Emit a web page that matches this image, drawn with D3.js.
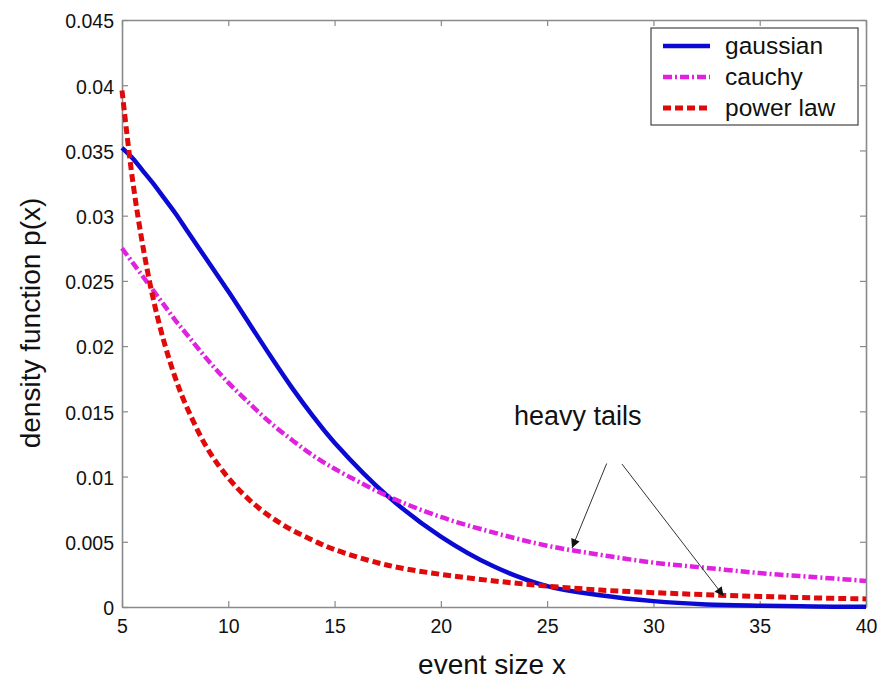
<script src="https://d3js.org/d3.v7.min.js"></script>
<html>
<head>
<style>
body { margin: 0; background: #fff; }
text { font-family: "Liberation Sans", Arial, sans-serif; fill: #111; }
</style>
</head>
<body>
<script>
var eventSize = [5, 5.5, 6, 6.5, 7, 7.5, 8, 9, 10, 11, 12, 13, 14, 15, 17.5, 20, 22.5, 25, 27.5, 30, 32.5, 35, 37.5, 40];
var gaussian = [0.0352, 0.0344, 0.0334, 0.0324, 0.0313, 0.0302, 0.0290, 0.0266, 0.0242, 0.0217, 0.0192, 0.0168, 0.0146, 0.0126, 0.0085, 0.0054, 0.0031, 0.0016, 0.0009, 0.00045, 0.0002, 0.0001, 0.00004, 0.00001];
var cauchy = [0.0275, 0.0264, 0.0253, 0.0242, 0.0231, 0.0220, 0.0210, 0.0190, 0.0172, 0.0156, 0.0141, 0.0128, 0.0116, 0.0106, 0.0085, 0.0069, 0.0057, 0.0047, 0.0040, 0.0034, 0.0030, 0.0026, 0.0023, 0.0020];
var powerLaw = [0.0396, 0.0327, 0.0275, 0.0234, 0.0202, 0.0176, 0.0155, 0.0122, 0.0099, 0.0082, 0.0069, 0.0059, 0.0051, 0.0044, 0.0032, 0.0025, 0.0020, 0.0016, 0.0013, 0.0011, 0.00094, 0.00081, 0.0007, 0.00062];

var seriesNames = ["gaussian", "cauchy", "power law"];
var xTicks = [5, 10, 15, 20, 25, 30, 35, 40];
var yTicks = [0, 0.005, 0.01, 0.015, 0.02, 0.025, 0.03, 0.035, 0.04, 0.045];
var yTickLabels = ["0", "0.005", "0.01", "0.015", "0.02", "0.025", "0.03", "0.035", "0.04", "0.045"];

var W = 880, H = 680;
var box = ({left: 122, right: 866, top: 20, bottom: 607});

var svg = d3.select("body").append("svg")
  .attr("width", W)
  .attr("height", H);

var x = d3.scaleLinear().domain([5, 40]).range([box.left, box.right]);
var y = d3.scaleLinear().domain([0, 0.045]).range([box.bottom, box.top]);

// styles for each curve
var styles = [
  {color: "#0a0ad2", width: 4.5, dash: null},
  {color: "#e022e0", width: 4.5, dash: "9,3,2,3"},
  {color: "#e00a0a", width: 5, dash: "8,4"}
];
var seriesData = [gaussian, cauchy, powerLaw];

// axes, matlab style: box with ticks pointing inward on all four sides
var tickLen = 6;
var axisColor = "#8a8a8a";
var gBottom = svg.append("g").attr("transform", `translate(0,${box.bottom})`)
  .call(d3.axisBottom(x).tickValues(xTicks).tickSizeInner(-tickLen).tickSizeOuter(0).tickPadding(10));
var gTop = svg.append("g").attr("transform", `translate(0,${box.top})`)
  .call(d3.axisTop(x).tickValues(xTicks).tickSizeInner(-tickLen).tickSizeOuter(0).tickFormat(""));
var gLeft = svg.append("g").attr("transform", `translate(${box.left},0)`)
  .call(d3.axisLeft(y).tickValues(yTicks).tickSizeInner(-tickLen).tickSizeOuter(0).tickPadding(8)
    .tickFormat(function(d, i) { return yTickLabels[i]; }));
var gRight = svg.append("g").attr("transform", `translate(${box.right},0)`)
  .call(d3.axisRight(y).tickValues(yTicks).tickSizeInner(-tickLen).tickSizeOuter(0).tickFormat(""));

[gBottom, gTop, gLeft, gRight].forEach(function(g) {
  g.select(".domain").attr("stroke", axisColor).attr("stroke-width", 1.6);
  g.selectAll(".tick line").attr("stroke", axisColor).attr("stroke-width", 1.2);
  g.selectAll("text").style("font-size", "19.5px").attr("fill", "#111")
    .style("font-family", '"Liberation Sans", Arial, sans-serif');
});
gLeft.selectAll("text").attr("dy", "0.4em");
gBottom.selectAll("text").attr("dy", "0.8em");

// the curves
var line = d3.line()
  .x(function(d) { return x(d[0]); })
  .y(function(d) { return y(d[1]); })
  .curve(d3.curveCatmullRom);

for (var s = 0; s < seriesData.length; s++) {
  var pts = eventSize.map(function(v, i) { return [v, seriesData[s][i]]; });
  svg.append("path")
    .datum(pts)
    .attr("d", line)
    .attr("fill", "none")
    .attr("stroke", styles[s].color)
    .attr("stroke-width", styles[s].width)
    .attr("stroke-dasharray", styles[s].dash);
}

// heavy tails note with two arrows
var defs = svg.append("defs");
defs.append("marker")
  .attr("id", "head")
  .attr("viewBox", "0 0 10 10")
  .attr("refX", 10).attr("refY", 5)
  .attr("markerWidth", 11).attr("markerHeight", 9)
  .attr("markerUnits", "userSpaceOnUse")
  .attr("orient", "auto")
  .append("path").attr("d", "M0,0 L10,5 L0,10 Z").attr("fill", "#111");

svg.append("text")
  .attr("x", x(23.44)).attr("y", y(0.01395))
  .style("font-size", "27px")
  .text("heavy tails");

var arrows = [
  [[27.8, 0.0110], [26.17, 0.00452]],
  [[28.52, 0.01096], [33.3, 0.00084]]
];
arrows.forEach(function(a) {
  svg.append("line")
    .attr("x1", x(a[0][0])).attr("y1", y(a[0][1]))
    .attr("x2", x(a[1][0])).attr("y2", y(a[1][1]))
    .attr("stroke", "#333").attr("stroke-width", 1)
    .attr("marker-end", "url(#head)");
});

// legend
var legend = svg.append("g").attr("transform", "translate(651,28)");
legend.append("rect")
  .attr("width", 207).attr("height", 97)
  .attr("fill", "#fff")
  .attr("stroke", "#444").attr("stroke-width", 1.2);
seriesNames.forEach(function(name, i) {
  var row = 18 + i * 31;
  legend.append("line")
    .attr("x1", 12).attr("x2", 59)
    .attr("y1", row).attr("y2", row)
    .attr("stroke", styles[i].color)
    .attr("stroke-width", styles[i].width)
    .attr("stroke-dasharray", styles[i].dash);
  legend.append("text")
    .attr("x", 74).attr("y", row + 8)
    .style("font-size", "24.5px")
    .text(name);
});

// axis titles
svg.append("text")
  .attr("x", (box.left + box.right) / 2 - 2)
  .attr("y", 674)
  .attr("text-anchor", "middle")
  .style("font-size", "28px")
  .text("event size x");

svg.append("text")
  .attr("transform", "translate(40,323) rotate(-90)")
  .attr("text-anchor", "middle")
  .style("font-size", "28px")
  .text("density function p(x)");
</script>
</body>
</html>
